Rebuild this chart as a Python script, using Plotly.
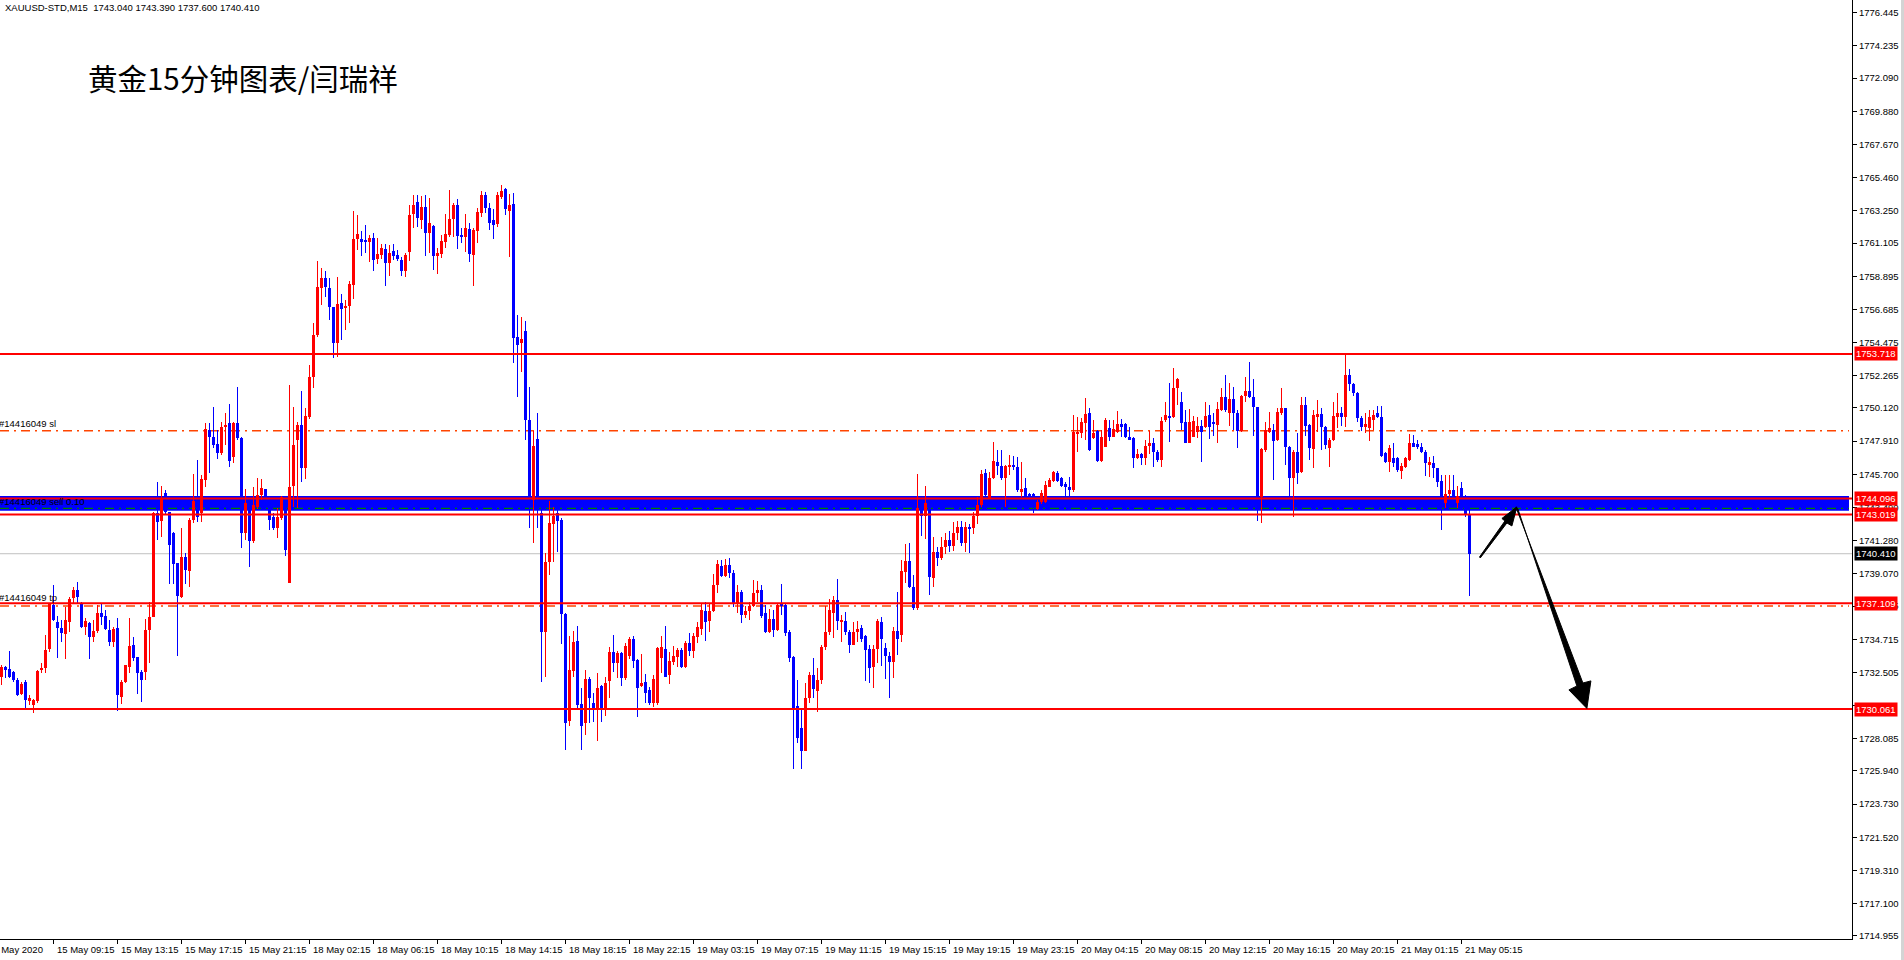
import plotly.graph_objects as go

# ---------------- data (bar index 0 = first visible M15 bar) ----------------
opens = [
1732.23,1732.89,1732.72,1732.56,1732.01,1731.07,1731.90,1730.63,1730.34,1730.63,
1732.67,1732.78,1734.05,1737.00,1735.85,1735.49,1735.05,1735.85,1737.45,1738.00,
1737.11,1735.51,1735.78,1734.85,1735.29,1736.49,1736.27,1735.34,1734.54,1735.45,
1730.90,1731.85,1732.89,1734.34,1733.52,1732.56,1732.56,1735.34,1736.22,1743.15,
1742.60,1744.44,1743.22,1741.77,1739.78,1737.56,1740.22,1739.27,1742.66,1743.88,
1743.11,1745.33,1748.66,1748.21,1747.72,1747.15,1748.83,1749.10,1746.88,1749.10,
1748.10,1741.77,1743.77,1741.29,1743.51,1744.33,1744.70,1744.10,1742.88,1742.11,
1742.77,1744.17,1738.49,1744.93,1747.99,1748.99,1746.10,1749.50,1752.16,1754.98,
1758.09,1758.76,1758.13,1756.87,1754.43,1757.09,1756.78,1756.93,1758.31,1761.37,
1761.37,1761.31,1761.20,1761.46,1760.02,1760.31,1760.71,1759.80,1760.58,1760.31,
1759.98,1759.27,1760.53,1763.04,1763.82,1762.64,1763.48,1761.75,1762.24,1760.24,
1760.38,1761.20,1761.64,1762.71,1763.64,1761.64,1761.53,1762.02,1760.31,1761.93,
1763.13,1764.31,1763.42,1762.64,1762.37,1764.20,1764.70,1763.26,1763.71,1754.83,
1754.43,1755.25,1749.32,1743.99,1748.03,1743.10,1735.22,1739.84,1742.39,1743.10,
1742.66,1736.40,1729.29,1732.62,1734.62,1730.40,1729.12,1732.07,1730.49,1730.12,
1731.60,1730.12,1731.94,1733.85,1733.16,1733.82,1732.11,1733.60,1734.73,1733.33,
1731.63,1731.89,1731.34,1730.49,1730.49,1733.45,1734.05,1732.34,1733.22,1733.56,
1734.00,1732.85,1734.49,1733.96,1734.89,1735.38,1736.62,1735.95,1736.62,1738.33,
1739.60,1738.93,1739.66,1739.15,1737.06,1737.89,1736.33,1736.62,1736.93,1737.82,
1738.00,1736.44,1735.22,1736.07,1735.33,1737.06,1737.00,1735.22,1733.56,1730.27,
1728.78,1727.30,1730.78,1732.34,1731.29,1732.00,1734.18,1735.22,1736.49,1737.33,
1735.89,1735.95,1735.22,1734.33,1735.22,1735.44,1734.93,1734.05,1732.85,1734.05,
1735.89,1734.11,1733.60,1733.22,1735.29,1735.00,1739.22,1739.95,1738.22,1736.77,
1743.43,1742.90,1743.72,1738.77,1740.55,1740.10,1740.84,1741.33,1740.90,1741.81,
1742.21,1741.15,1742.21,1742.10,1742.92,1743.66,1745.77,1744.10,1745.43,1746.50,
1746.25,1745.43,1746.25,1746.32,1746.17,1744.55,1744.77,1744.39,1744.37,1743.37,
1743.88,1743.88,1744.88,1745.28,1745.77,1745.48,1745.03,1744.88,1744.66,1748.43,
1748.43,1749.14,1749.76,1748.10,1748.61,1746.61,1747.54,1748.76,1748.21,1748.54,
1749.05,1749.05,1748.16,1748.10,1746.81,1747.05,1746.77,1747.59,1747.81,1747.21,
1746.65,1749.32,1749.54,1749.54,1751.47,1750.54,1749.21,1747.81,1748.21,1748.54,
1748.92,1748.87,1749.65,1749.14,1748.99,1749.98,1750.87,1749.81,1750.69,1749.81,
1748.59,1750.90,1751.25,1750.87,1750.16,1744.21,1747.32,1748.54,1748.65,1747.99,
1749.76,1750.10,1747.54,1745.43,1747.21,1745.88,1750.32,1748.99,1747.36,1749.54,
1749.72,1748.83,1747.43,1747.99,1749.54,1749.81,1749.54,1752.32,1751.69,1751.14,
1749.43,1748.83,1748.76,1749.32,1749.76,1749.54,1747.10,1746.54,1746.81,1746.77,
1745.94,1746.17,1746.65,1747.76,1747.70,1747.54,1747.21,1746.32,1746.43,1746.10,
1745.28,1743.81,1744.39,1744.66,1743.77,1744.77,1744.10,1743.04]

highs = [
1733.00,1732.94,1733.94,1732.63,1732.12,1731.90,1732.01,1731.01,1730.72,1732.67,
1733.12,1735.00,1737.11,1738.33,1736.27,1736.00,1736.89,1737.56,1738.22,1738.51,
1737.22,1736.11,1735.89,1736.00,1737.00,1737.11,1736.67,1736.00,1735.51,1736.11,
1732.01,1733.00,1736.11,1734.89,1733.56,1732.67,1736.05,1737.22,1743.22,1745.22,
1744.93,1744.66,1743.22,1741.88,1739.82,1742.11,1740.44,1742.77,1745.73,1746.66,
1745.66,1749.10,1749.10,1750.21,1748.66,1749.21,1749.77,1750.39,1749.20,1751.50,
1748.21,1744.70,1744.22,1744.88,1745.44,1745.37,1744.75,1744.22,1743.11,1743.44,
1744.26,1744.26,1751.65,1750.21,1749.21,1751.27,1750.14,1752.98,1755.76,1759.93,
1759.42,1759.27,1758.80,1756.87,1758.87,1757.71,1757.31,1758.56,1763.24,1762.97,
1761.93,1762.31,1761.64,1761.80,1761.42,1761.04,1761.04,1760.98,1761.02,1760.64,
1760.15,1760.46,1763.64,1764.31,1764.31,1764.24,1764.31,1764.08,1762.31,1760.75,
1761.64,1763.04,1764.64,1763.75,1764.02,1762.09,1763.04,1762.42,1762.09,1763.46,
1764.57,1764.53,1763.75,1763.35,1764.53,1764.97,1764.79,1764.37,1764.42,1756.31,
1756.20,1755.91,1751.50,1748.61,1749.76,1743.99,1740.44,1743.95,1743.55,1743.32,
1742.77,1736.44,1734.93,1735.29,1735.60,1731.45,1732.67,1732.22,1731.11,1732.45,
1731.67,1732.22,1734.22,1735.00,1733.96,1733.89,1734.49,1734.84,1734.93,1733.38,
1733.73,1732.40,1731.56,1732.34,1734.22,1734.93,1735.60,1733.89,1734.27,1734.11,
1734.11,1734.62,1735.11,1735.11,1735.89,1737.06,1737.22,1737.06,1739.06,1740.00,
1740.00,1740.04,1740.10,1739.33,1738.33,1738.00,1736.93,1737.22,1738.66,1738.62,
1738.33,1737.00,1736.71,1736.66,1737.15,1738.40,1737.15,1735.33,1733.60,1732.00,
1730.00,1731.78,1732.56,1733.45,1732.78,1734.33,1736.93,1737.37,1737.60,1738.71,
1736.33,1736.55,1735.33,1735.89,1735.95,1735.67,1735.00,1734.33,1734.33,1736.04,
1736.18,1734.44,1733.89,1735.51,1737.89,1739.99,1741.06,1741.15,1738.99,1745.72,
1744.20,1744.92,1743.88,1741.55,1740.88,1741.55,1741.81,1741.90,1742.55,1742.61,
1742.60,1742.50,1742.40,1743.20,1744.20,1745.99,1746.03,1745.88,1747.88,1747.32,
1747.32,1746.32,1746.99,1746.92,1746.88,1746.54,1745.43,1744.48,1744.43,1743.99,
1744.66,1745.28,1745.43,1745.94,1745.94,1745.54,1745.21,1745.50,1749.65,1749.54,
1749.47,1750.76,1750.10,1749.32,1748.65,1748.65,1749.43,1749.32,1749.32,1749.92,
1749.36,1749.14,1748.83,1748.16,1747.36,1747.10,1747.99,1748.61,1748.10,1747.32,
1749.54,1750.54,1751.80,1752.80,1752.10,1751.21,1749.98,1750.03,1749.58,1749.54,
1749.32,1750.54,1750.32,1749.76,1750.54,1751.43,1752.32,1751.76,1751.49,1749.98,
1751.00,1752.20,1753.16,1752.03,1750.21,1747.43,1749.21,1749.87,1749.05,1750.10,
1751.43,1750.10,1747.59,1747.32,1748.43,1750.87,1750.87,1749.05,1749.98,1750.65,
1750.10,1748.92,1748.10,1750.54,1751.09,1750.21,1753.71,1752.69,1751.76,1751.20,
1749.60,1749.76,1749.98,1749.98,1750.25,1750.25,1747.21,1747.65,1747.76,1746.88,
1746.48,1746.88,1748.38,1748.32,1747.99,1747.76,1747.32,1746.83,1746.92,1746.14,
1745.66,1745.66,1745.66,1745.66,1744.92,1745.21,1744.30,1743.39]

lows = [
1731.67,1732.12,1732.12,1731.90,1730.94,1731.01,1730.12,1730.34,1729.83,1730.45,
1732.49,1732.49,1733.89,1735.94,1733.49,1734.56,1733.38,1735.18,1737.11,1737.11,
1735.45,1735.00,1733.38,1734.56,1735.11,1735.67,1735.34,1734.27,1734.23,1729.96,
1730.41,1731.78,1732.45,1733.29,1731.07,1730.56,1732.01,1733.12,1736.18,1741.33,
1741.55,1743.00,1738.40,1738.40,1733.60,1737.45,1738.40,1738.22,1742.44,1742.55,
1742.55,1744.88,1745.77,1747.43,1746.72,1746.99,1747.66,1746.21,1746.44,1748.00,
1740.77,1741.33,1739.55,1741.15,1743.37,1743.99,1743.99,1742.00,1742.00,1741.44,
1742.66,1740.26,1738.44,1743.55,1743.44,1745.21,1745.37,1749.36,1751.43,1754.87,
1756.98,1757.53,1755.98,1753.43,1753.54,1754.65,1755.31,1755.76,1757.38,1760.64,
1760.24,1760.46,1759.87,1759.27,1759.71,1760.02,1758.27,1758.91,1759.98,1759.93,
1758.91,1758.87,1759.93,1762.09,1762.20,1762.02,1760.24,1760.42,1759.31,1759.04,
1760.09,1760.75,1761.49,1761.53,1760.69,1761.13,1760.53,1759.87,1758.24,1761.09,
1762.86,1763.09,1761.97,1761.37,1762.15,1764.02,1762.97,1760.15,1753.14,1750.87,
1752.54,1747.99,1742.10,1741.12,1742.10,1731.89,1732.22,1739.00,1739.88,1740.55,
1734.40,1727.34,1728.94,1732.22,1730.00,1727.34,1728.34,1729.12,1729.23,1727.96,
1729.23,1729.60,1730.78,1732.56,1732.11,1731.60,1732.00,1733.38,1732.78,1729.51,
1731.56,1730.45,1730.34,1730.18,1730.34,1732.49,1732.22,1731.74,1733.00,1732.89,
1732.78,1732.78,1733.60,1733.45,1734.44,1735.00,1734.62,1735.22,1736.55,1737.82,
1738.89,1738.89,1738.78,1736.84,1736.44,1735.82,1736.11,1736.00,1736.89,1737.22,
1736.11,1735.10,1735.10,1734.84,1735.29,1736.33,1734.93,1733.22,1726.05,1727.83,
1726.05,1727.25,1730.49,1730.78,1729.89,1731.74,1734.00,1735.00,1734.78,1735.33,
1734.56,1735.00,1733.82,1734.30,1734.56,1734.56,1731.96,1731.78,1731.45,1733.11,
1732.93,1732.05,1730.78,1732.11,1733.67,1734.50,1738.44,1738.10,1736.66,1736.66,
1741.60,1741.37,1737.66,1738.17,1739.60,1739.99,1740.40,1740.50,1740.60,1741.30,
1740.90,1740.50,1740.44,1741.70,1742.40,1743.50,1744.28,1744.03,1745.37,1745.66,
1745.32,1743.55,1745.66,1745.99,1744.55,1744.21,1744.26,1744.10,1743.10,1743.32,
1743.70,1743.81,1744.83,1745.21,1745.21,1744.88,1744.28,1744.28,1744.55,1747.21,
1748.10,1747.99,1747.28,1748.03,1746.54,1746.54,1747.50,1747.94,1748.16,1748.47,
1748.16,1748.10,1748.03,1746.14,1746.70,1746.32,1746.32,1747.05,1746.21,1746.54,
1746.21,1749.21,1747.88,1749.43,1750.32,1748.65,1747.81,1747.76,1748.16,1748.10,
1746.54,1748.76,1748.03,1748.25,1747.81,1749.94,1749.87,1748.92,1748.65,1747.43,
1748.54,1750.50,1750.76,1748.25,1742.61,1742.44,1747.21,1748.43,1745.32,1747.94,
1749.65,1746.32,1744.21,1742.84,1745.06,1745.77,1748.25,1746.65,1746.10,1748.54,
1747.32,1747.36,1746.21,1747.90,1748.76,1748.92,1748.83,1751.27,1750.90,1749.20,
1748.61,1748.47,1747.94,1748.65,1749.43,1746.83,1746.43,1745.88,1746.21,1745.88,
1745.37,1746.10,1746.60,1747.50,1747.36,1747.10,1745.59,1745.54,1745.43,1744.88,
1741.99,1743.43,1744.03,1743.90,1743.43,1743.77,1742.88,1737.60]

closes = [
1732.89,1732.67,1732.23,1732.01,1731.01,1731.72,1730.67,1730.79,1730.67,1732.61,
1732.83,1734.00,1737.11,1736.00,1735.45,1735.16,1736.00,1737.38,1738.00,1737.56,
1735.56,1735.94,1734.89,1735.29,1736.49,1736.22,1735.38,1734.54,1735.42,1731.01,
1731.85,1732.98,1734.27,1733.45,1732.49,1732.01,1735.34,1736.22,1743.15,1742.55,
1744.10,1743.22,1741.00,1739.73,1737.60,1740.22,1739.33,1742.66,1743.93,1742.88,
1745.37,1748.70,1748.17,1747.66,1747.15,1748.88,1748.99,1746.61,1749.10,1748.10,
1741.82,1743.77,1741.29,1743.66,1744.33,1744.77,1744.10,1742.66,1742.11,1742.84,
1744.17,1740.66,1744.88,1747.66,1748.99,1746.10,1749.59,1752.21,1754.98,1758.20,
1758.76,1758.16,1756.87,1754.43,1757.05,1756.69,1756.93,1758.38,1761.37,1761.71,
1761.20,1761.17,1761.46,1759.98,1760.38,1760.75,1759.80,1760.42,1760.24,1760.02,
1759.27,1760.31,1762.97,1763.64,1762.75,1763.48,1761.80,1762.46,1760.24,1760.42,
1761.26,1761.71,1762.71,1763.64,1761.57,1761.53,1762.13,1760.38,1761.97,1763.20,
1764.31,1763.42,1762.46,1762.31,1764.31,1764.57,1763.35,1763.64,1754.76,1754.32,
1754.69,1749.32,1744.05,1747.59,1743.90,1735.22,1739.84,1742.44,1742.93,1742.61,
1736.40,1729.16,1732.67,1734.56,1730.34,1728.94,1732.07,1730.78,1730.12,1731.45,
1730.12,1731.78,1733.89,1733.16,1733.82,1732.11,1734.27,1734.73,1733.29,1731.45,
1731.83,1731.11,1730.49,1732.05,1734.16,1734.18,1732.22,1733.29,1733.60,1734.00,
1732.85,1734.49,1733.96,1734.93,1735.55,1736.66,1735.89,1736.62,1738.33,1739.73,
1738.93,1739.66,1739.11,1737.06,1737.89,1736.33,1736.62,1736.93,1737.82,1738.00,
1736.27,1735.22,1736.07,1735.33,1737.00,1736.93,1735.15,1733.45,1730.00,1728.12,
1727.30,1730.78,1732.34,1731.38,1732.00,1734.22,1735.22,1736.66,1737.33,1735.95,
1736.00,1735.22,1734.33,1735.22,1735.38,1734.71,1734.00,1732.82,1734.05,1735.95,
1734.71,1733.60,1733.22,1735.29,1734.71,1739.28,1739.93,1738.17,1736.77,1743.43,
1742.90,1743.77,1738.88,1740.55,1740.10,1740.88,1741.33,1740.90,1741.81,1742.21,
1741.15,1742.21,1742.10,1742.92,1743.66,1745.72,1744.32,1745.43,1746.59,1746.25,
1745.43,1746.25,1746.27,1746.17,1744.66,1744.70,1744.28,1744.21,1744.21,1743.88,
1744.43,1744.99,1745.32,1745.88,1745.26,1744.92,1744.88,1744.66,1748.54,1748.54,
1749.21,1749.72,1747.32,1748.43,1746.61,1748.21,1749.32,1748.21,1748.70,1749.05,
1748.87,1748.16,1748.05,1746.81,1747.05,1746.77,1747.59,1747.76,1747.21,1746.65,
1749.25,1749.65,1749.47,1751.47,1752.03,1749.14,1747.81,1749.21,1749.27,1748.92,
1748.54,1749.58,1748.87,1749.10,1750.03,1750.87,1749.98,1750.69,1749.76,1748.59,
1750.90,1751.25,1750.87,1750.16,1744.21,1747.39,1748.65,1748.76,1747.94,1749.87,
1750.10,1747.54,1745.43,1747.21,1745.77,1750.32,1748.92,1747.43,1749.65,1749.70,
1748.83,1747.65,1747.99,1749.58,1749.81,1749.54,1752.32,1751.69,1751.10,1749.43,
1748.87,1749.05,1749.54,1749.65,1749.54,1746.92,1746.54,1747.48,1746.43,1745.99,
1746.25,1746.77,1747.76,1747.54,1747.50,1747.21,1746.43,1746.52,1746.10,1745.21,
1744.21,1744.39,1744.66,1743.99,1744.26,1744.10,1743.04,1740.41]

tick_bars = [-3, 13, 29, 45, 61, 77, 93, 109, 125, 141, 157, 173, 189, 205,
             221, 237, 253, 269, 285, 301, 317, 333, 349, 365]
tick_labels = ["15 May 2020", "15 May 09:15", "15 May 13:15", "15 May 17:15",
               "15 May 21:15", "18 May 02:15", "18 May 06:15", "18 May 10:15",
               "18 May 14:15", "18 May 18:15", "18 May 22:15", "19 May 03:15",
               "19 May 07:15", "19 May 11:15", "19 May 15:15", "19 May 19:15",
               "19 May 23:15", "20 May 04:15", "20 May 08:15", "20 May 12:15",
               "20 May 16:15", "20 May 20:15", "21 May 01:15", "21 May 05:15"]

price_ticks = [1776.445, 1774.235, 1772.090, 1769.880, 1767.670, 1765.460, 1763.250,
               1761.105, 1758.895, 1756.685, 1754.475, 1752.265, 1750.120, 1747.910,
               1745.700, 1743.490, 1741.280, 1739.070, 1736.925, 1734.715, 1732.505,
               1730.295, 1728.085, 1725.940, 1723.730, 1721.520, 1719.310, 1717.100,
               1714.955]
hidden_ticks = [1730.295]   # fully covered by the 1730.061 price label

red_levels = [1753.718, 1744.096, 1743.019, 1737.109, 1730.061]
bid_price = 1740.410
sl_price = 1748.60
tp_price = 1736.93
entry_price = 1743.43
zone_top, zone_bottom = 1744.26, 1743.28

header_text = "XAUUSD-STD,M15\u00a0\u00a01743.040 1743.390 1737.600 1740.410"
title_text = "黄金15分钟图表/闫瑞祥"
order_id = "#14416049"

# forecast arrows (bar index, price)
small_arrow = [(369.5, 1740.19), (375.85, 1742.59), (375.1, 1742.76), (378.85, 1743.53),
               (377.6, 1742.26), (376.35, 1742.46), (369.7, 1740.13)]
big_arrow = [(378.6, 1743.52), (395.35, 1731.80), (397.35, 1731.94), (396.35, 1730.11),
             (391.85, 1731.34), (393.85, 1731.60), (379.1, 1743.39)]

# ---------------- figure ----------------
RED, BLUE = "#FF0000", "#0000FF"
X0, X1 = -0.375, 462.625          # visible bar range
n = len(closes)
idx = list(range(n))
colors = [RED if c >= o else BLUE for o, c in zip(opens, closes)]
body_base = [min(o, c) for o, c in zip(opens, closes)]
body_h = [max(abs(c - o), 0.07) for o, c in zip(opens, closes)]
wick_h = [h - l for h, l in zip(highs, lows)]

fig = go.Figure()
fig.add_trace(go.Bar(x=idx, y=wick_h, base=lows, width=0.25,
                     marker=dict(color=colors, line=dict(width=0)),
                     hoverinfo="skip", showlegend=False))
fig.add_trace(go.Bar(x=idx, y=body_h, base=body_base, width=0.75,
                     marker=dict(color=colors, line=dict(width=0)),
                     hoverinfo="skip", showlegend=False))

shapes = []
shapes.append(dict(type="rect", xref="paper", yref="y", x0=0, x1=1849 / 1852,
                   y0=zone_bottom, y1=zone_top, fillcolor=BLUE,
                   line=dict(width=0), layer="below"))
shapes.append(dict(type="line", xref="paper", yref="y", x0=0, x1=1, y0=bid_price,
                   y1=bid_price, line=dict(color="#C0C0C0", width=1), layer="below"))
for lvl, col in [(sl_price, "#FF4500"), (tp_price, "#FF4500"), (entry_price, "#008000")]:
    shapes.append(dict(type="line", xref="paper", yref="y", x0=0, x1=1849 / 1852,
                       y0=lvl, y1=lvl, layer="below",
                       line=dict(color=col, width=1.3, dash="9px,5px,2px,5px")))
for lvl in red_levels:
    shapes.append(dict(type="line", xref="paper", yref="y", x0=0, x1=1, y0=lvl, y1=lvl,
                       line=dict(color=RED, width=2), layer="above"))


def poly(pts):
    return "M " + " L ".join(f"{x},{y}" for x, y in pts) + " Z"


for pts in (small_arrow, big_arrow):
    shapes.append(dict(type="path", xref="x", yref="y", path=poly(pts),
                       fillcolor="black", line=dict(color="black", width=1), layer="above"))
shapes.append(dict(type="line", xref="paper", yref="paper", x0=1902.5 / 1852,
                   x1=1902.5 / 1852, y0=-0.03, y1=1.0,
                   line=dict(color="#D4D4D4", width=3)))

FONT = "Liberation Sans, Arial, sans-serif"
ann = []
for b, t in zip(tick_bars, tick_labels):
    ann.append(dict(x=(b - X0) / (X1 - X0), y=0, xref="paper", yref="paper", text=t,
                    showarrow=False, xanchor="left", yanchor="top",
                    xshift=(-4 if b < X0 else 1), yshift=-3,
                    font=dict(family=FONT, size=9.5, color="black")))
for lvl in red_levels:
    ann.append(dict(x=1, y=lvl, xref="paper", yref="y", text=f"{lvl:.3f}",
                    showarrow=False, xanchor="left", yanchor="middle", xshift=2,
                    bgcolor=RED, borderpad=1,
                    font=dict(family=FONT, size=9.5, color="white")))
ann.append(dict(x=1, y=bid_price, xref="paper", yref="y", text=f"{bid_price:.3f}",
                showarrow=False, xanchor="left", yanchor="middle", xshift=2,
                bgcolor="black", borderpad=1,
                font=dict(family=FONT, size=9.5, color="white")))
ann.append(dict(x=0, y=sl_price, xref="paper", yref="y", text=order_id + " sl",
                showarrow=False, xanchor="left", yanchor="bottom", xshift=-3, yshift=0,
                font=dict(family=FONT, size=9.5, color="black")))
ann.append(dict(x=0, y=(zone_top + zone_bottom) / 2 + 0.1, xref="paper", yref="y",
                text=order_id + " sell 0.10", showarrow=False, xanchor="left",
                yanchor="middle", xshift=-3,
                font=dict(family=FONT, size=9.5, color="black")))
ann.append(dict(x=0, y=tp_price, xref="paper", yref="y", text=order_id + " tp",
                showarrow=False, xanchor="left", yanchor="bottom", xshift=-3, yshift=1,
                font=dict(family=FONT, size=9.5, color="black")))
ann.append(dict(x=3 / 1852, y=1, xref="paper", yref="paper", text=header_text,
                showarrow=False, xanchor="left", yanchor="top", yshift=0,
                font=dict(family=FONT, size=9.5, color="black")))
ann.append(dict(x=86 / 1852, y=1 - 77 / 939, xref="paper", yref="paper", text=title_text,
                showarrow=False, xanchor="left", yanchor="middle",
                font=dict(family="Noto Sans CJK SC", size=29.5, color="black")))

fig.update_layout(
    width=1904, height=960,
    margin=dict(l=0, r=52, t=0, b=21, pad=0),
    paper_bgcolor="white", plot_bgcolor="white",
    barmode="overlay", bargap=0, showlegend=False,
    shapes=shapes, annotations=ann,
    xaxis=dict(range=[X0, X1], showgrid=False, zeroline=False,
               showline=True, linecolor="black", linewidth=1,
               ticks="outside", ticklen=4, tickcolor="black",
               tickvals=tick_bars, showticklabels=False, fixedrange=True),
    yaxis=dict(range=[1714.75, 1777.29], side="right", showgrid=False, zeroline=False,
               showline=True, linecolor="black", linewidth=1,
               ticks="outside", ticklen=4, tickcolor="black",
               tickvals=price_ticks,
               ticktext=["" if v in hidden_ticks else f"{v:.3f}" for v in price_ticks],
               tickfont=dict(family=FONT, size=9.5, color="black"), fixedrange=True),
)

fig.write_html("out.html", config={"displayModeBar": False},
               post_script="document.body.style.margin='0';")
